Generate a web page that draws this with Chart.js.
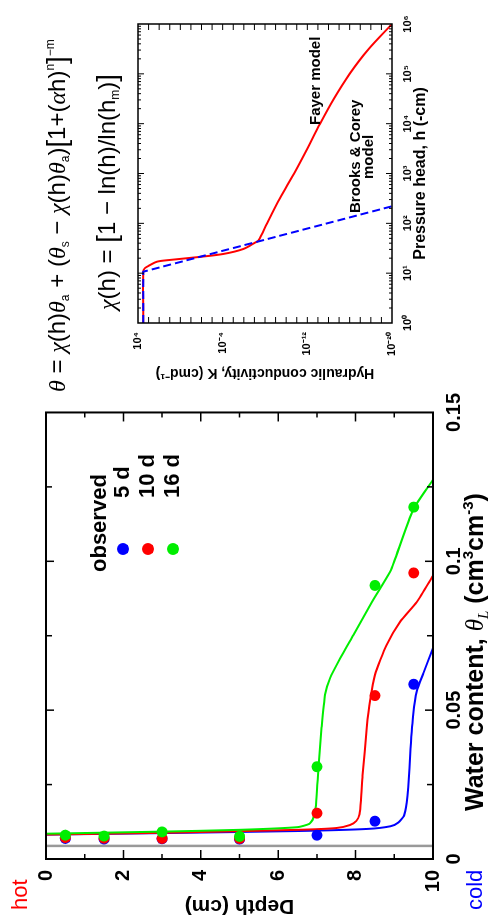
<!DOCTYPE html>
<html>
<head>
<meta charset="utf-8">
<script src="https://cdn.jsdelivr.net/npm/chart.js@4.4.0/dist/chart.umd.min.js"></script>
<style>
html, body { margin: 0; padding: 0; background: #fff; }
body { width: 489px; height: 924px; overflow: hidden; position: relative; }
#page {
    position: absolute; left: 0; top: 0; width: 924px; height: 489px;
    transform-origin: 0 0; transform: translateY(924px) rotate(-90deg);
    font-family: "Liberation Sans", Arial, sans-serif; color: #000;
}
#mainChart { position: absolute; left: 0; top: 0; }
#insetChart { position: absolute; left: 540px; top: 0; }
.lbl { position: absolute; white-space: nowrap; line-height: 1; }
.b { font-weight: bold; }
.dot { position: absolute; width: 12px; height: 12px; border-radius: 50%; }
.eq { position: absolute; white-space: nowrap; line-height: 1; font-size: 24px; }
.eq i { font-family: "Liberation Serif", "Times New Roman", serif; }
.eq sub, .eq sup, .xt sub, .xt sup { font-size: 0.5em; position: relative; vertical-align: baseline; line-height: 0; }
.eq sub { top: 0.35em; }
.eq sup { top: -0.9em; }
.eq .br { font-size: 1.15em; position: relative; top: 0.05em; }
.xt i { font-family: "Liberation Serif", "Times New Roman", serif; font-weight: normal; }
.xt sub { top: 0.35em; font-size: 0.6em; }
.xt sup { top: -0.7em; font-size: 0.6em; }
</style>
</head>
<body>
<div id="page">
    <canvas id="mainChart" width="540" height="489" style="width:540px;height:489px"></canvas>
    <canvas id="insetChart" width="384" height="440" style="width:384px;height:440px"></canvas>

    <div class="lbl" style="left:14px;top:9px;font-size:22px;color:#ff0000">hot</div>
    <div class="lbl" style="left:14px;top:464px;font-size:22px;color:#0000ff">cold</div>

    <div class="lbl b" style="left:352px;top:88px;font-size:22px">observed</div>
    <div class="dot" id="dot5" style="left:369px;top:117px"></div>
    <div class="dot" id="dot10" style="left:369px;top:142px"></div>
    <div class="dot" id="dot16" style="left:369px;top:167px"></div>
    <div class="lbl b" style="left:426px;top:111px;font-size:22px">5 d</div>
    <div class="lbl b" style="left:426px;top:136px;font-size:22px">10 d</div>
    <div class="lbl b" style="left:426px;top:161px;font-size:22px">16 d</div>

    <div class="lbl b xt" style="left:113px;top:462px;font-size:25px">Water content, <i>θ<sub>L</sub></i> (cm<sup>3</sup>cm<sup>-3</sup>)</div>

    <div class="eq" style="left:532px;top:42px"><i>θ</i> = <i>χ</i>(h)<i>θ</i><sub>a</sub> + (<i>θ</i><sub>s</sub> − <i>χ</i>(h)<i>θ</i><sub>a</sub>)<span class="br">[</span>1+(<i>α</i>h)<sup>n</sup><span class="br">]</span><sup>−m</sup></div>
    <div class="eq" style="left:614px;top:92px"><i>χ</i>(h) = <span class="br">[</span>1 − ln(h)/ln(h<sub>m</sub>)<span class="br">]</span></div>

    <div class="lbl b" style="left:799px;top:307px;font-size:15px">Fayer model</div>
    <div class="lbl b" style="left:711px;top:347px;font-size:15px">Brooks &amp; Corey</div>
    <div class="lbl b" style="left:745px;top:360px;font-size:15px">model</div>
</div>

<script>
// main chart values (x = water content, y = depth)
const thetaTicks = [0, 0.05, 0.1, 0.15];
const depthTicks = [0, 2, 4, 6, 8, 10];
const initialTheta = [0.0044, 0.0044];
const initialDepth = [0, 10];

const obsDepth = [0.5, 1.5, 3, 5, 7, 8.5, 9.5];
const obs5d = [0.0069, 0.0067, 0.0068, 0.0067, 0.0080, 0.0127, 0.0587];
const obs10d = [0.0072, 0.0070, 0.0069, 0.0069, 0.0154, 0.0549, 0.0961];
const obs16d = [0.0080, 0.0077, 0.0091, 0.0076, 0.0310, 0.0919, 0.1182];

const simDepth5d = [0, 3, 6.5, 8.3, 8.9, 9.1, 9.25, 9.32, 9.36, 9.42, 9.49, 9.58, 9.75, 10];
const simTheta5d = [0.0082, 0.0087, 0.0094, 0.0101, 0.0110, 0.0122, 0.0145, 0.0190, 0.0241, 0.0370, 0.0486, 0.0563, 0.0624, 0.0708];
const simDepth10d = [0, 3, 6.5, 7.5, 7.85, 8.02, 8.1, 8.14, 8.18, 8.29, 8.37, 8.5, 8.8, 9.15, 9.58, 10];
const simTheta10d = [0.0082, 0.0088, 0.0098, 0.0104, 0.0114, 0.0128, 0.0150, 0.0200, 0.0280, 0.0441, 0.0530, 0.0619, 0.0719, 0.0797, 0.0863, 0.0952];
const simDepth16d = [0, 3, 5, 6.5, 6.8, 6.9, 6.97, 7.04, 7.12, 7.21, 7.34, 7.6, 7.94, 8.42, 8.89, 9.0, 9.49, 10];
const simTheta16d = [0.0085, 0.0092, 0.0098, 0.0107, 0.0118, 0.0135, 0.0175, 0.0308, 0.0441, 0.0552, 0.0608, 0.0674, 0.0752, 0.0863, 0.0965, 0.1000, 0.1174, 0.1274];

// inset values (x = pressure head h, y = K as power of ten)
const hTicks = [1, 10, 100, 1e3, 1e4, 1e5, 1e6];
const hTickLabels = ['10⁰', '10¹', '10²', '10³', '10⁴', '10⁵', '10⁶'];
const kTicks = [1e-20, 1e-12, 1e-4, 1e4];
const kTickLabels = ['10⁻²⁰', '10⁻¹²', '10⁻⁴', '10⁴'];
const brooksH = [1, 10.7, 220];
const brooksLogK = [3.5, 3.5, -20];
const fayerH = [1, 10.7, 12.6, 14.0, 17.0, 18.4, 20.9, 24.3, 30.6, 41.0, 45.0, 100, 316, 1000, 3160, 10000, 31600, 100000, 316000, 1e6];
const fayerLogK = [3.5, 3.5, 3.35, 3.0, 2.2, 1.0, -1.55, -4.06, -5.95, -7.06, -7.37, -8.2, -9.4, -10.75, -12.0, -13.2, -14.5, -16.0, -17.8, -20];

const blue = '#0000ff';
const red = '#ff0000';
const green = '#00ee00';

document.getElementById('dot5').style.background = blue;
document.getElementById('dot10').style.background = red;
document.getElementById('dot16').style.background = green;

Chart.defaults.font.family = '"Liberation Sans", Arial, sans-serif';
Chart.defaults.color = '#000';

// inward ticks on all four sides plus a closed frame
const frameTicks = {
    id: 'frameTicks',
    afterDatasetsDraw(chart, args, opts) {
        const { ctx, chartArea: a } = chart;
        const sx = chart.scales.x, sy = chart.scales.y;
        ctx.save();
        ctx.strokeStyle = '#000';
        ctx.lineWidth = opts.tickWidth;
        ctx.beginPath();
        opts.xTicks.forEach(([v, len]) => {
            const p = sx.getPixelForValue(v);
            ctx.moveTo(p, a.bottom); ctx.lineTo(p, a.bottom - len);
            ctx.moveTo(p, a.top); ctx.lineTo(p, a.top + len);
        });
        opts.yTicks.forEach(([v, len]) => {
            const p = sy.getPixelForValue(v);
            ctx.moveTo(a.left, p); ctx.lineTo(a.left + len, p);
            ctx.moveTo(a.right, p); ctx.lineTo(a.right - len, p);
        });
        ctx.stroke();
        ctx.lineWidth = opts.frameWidth;
        ctx.strokeRect(a.left, a.top, a.right - a.left, a.bottom - a.top);
        ctx.restore();
    }
};

function pts(xs, ys) {
    return xs.map((x, i) => ({ x: x, y: ys[i] }));
}

let mainXTicks = [];
for (let i = 1; i < 6; i++) mainXTicks.push([i * 0.025, i % 2 === 0 ? 8 : 6]);
let mainYTicks = [];
for (let d = 1; d < 10; d++) mainYTicks.push([d, d % 2 === 0 ? 9 : 5]);

let mainCtx = document.getElementById('mainChart').getContext('2d');
let mainChart = new Chart(mainCtx, {
    type: 'scatter',
    data: {
        datasets: [
            { label: 'initial', data: pts(initialTheta, initialDepth), showLine: true, borderColor: '#999999', borderWidth: 2.5, pointRadius: 0, order: 9 },
            { label: '5 d sim', data: pts(simTheta5d, simDepth5d), showLine: true, borderColor: blue, borderWidth: 2, pointRadius: 0, tension: 0.2, order: 6 },
            { label: '10 d sim', data: pts(simTheta10d, simDepth10d), showLine: true, borderColor: red, borderWidth: 2, pointRadius: 0, tension: 0.2, order: 5 },
            { label: '16 d sim', data: pts(simTheta16d, simDepth16d), showLine: true, borderColor: green, borderWidth: 2, pointRadius: 0, tension: 0.2, order: 4 },
            { label: '5 d', data: pts(obs5d, obsDepth), backgroundColor: blue, borderWidth: 0, pointRadius: 5.5, order: 3 },
            { label: '10 d', data: pts(obs10d, obsDepth), backgroundColor: red, borderWidth: 0, pointRadius: 5.5, order: 2 },
            { label: '16 d', data: pts(obs16d, obsDepth), backgroundColor: green, borderWidth: 0, pointRadius: 5.5, order: 1 }
        ]
    },
    options: {
        responsive: false,
        animation: false,
        devicePixelRatio: 1,
        events: [],
        layout: { padding: { top: 46, right: 25, left: 0, bottom: 0 } },
        plugins: {
            legend: { display: false },
            tooltip: { enabled: false },
            frameTicks: { xTicks: mainXTicks, yTicks: mainYTicks, tickWidth: 1.5, frameWidth: 2 }
        },
        scales: {
            x: {
                type: 'linear', min: 0, max: 0.15,
                grid: { display: false, drawTicks: false },
                border: { display: false },
                afterBuildTicks: s => { s.ticks = thetaTicks.map(v => ({ value: v })); },
                afterFit: s => { s.height = 56; },
                ticks: {
                    font: { size: 20, weight: 'bold' }, padding: 9, maxRotation: 0, autoSkip: false,
                    callback: v => String(v)
                }
            },
            y: {
                type: 'linear', min: 0, max: 10, reverse: true,
                grid: { display: false, drawTicks: false },
                border: { display: false },
                afterBuildTicks: s => { s.ticks = depthTicks.map(v => ({ value: v })); },
                afterFit: s => { s.width = 65; },
                ticks: { font: { size: 20, weight: 'bold' }, padding: 11, autoSkip: false },
                title: { display: true, text: 'Depth (cm)', font: { size: 21, weight: 'bold' }, padding: { top: 6, bottom: 0 } }
            }
        }
    },
    plugins: [frameTicks]
});

let insetXTicks = [];
for (let d = 0; d < 6; d++) {
    for (let m = 1; m < 10; m++) {
        if (d === 0 && m === 1) continue;
        insetXTicks.push([m * Math.pow(10, d), m === 1 ? 6 : 3]);
    }
}
let insetYTicks = [];
for (let e = -19; e < 4; e++) insetYTicks.push([Math.pow(10, e), 6]);

let insetCtx = document.getElementById('insetChart').getContext('2d');
let insetChart = new Chart(insetCtx, {
    type: 'scatter',
    data: {
        datasets: [
            { label: 'Brooks & Corey model', data: pts(brooksH, brooksLogK.map(e => Math.pow(10, e))), showLine: true, borderColor: blue, borderWidth: 2, borderDash: [8, 4], pointRadius: 0, order: 1 },
            { label: 'Fayer model', data: pts(fayerH, fayerLogK.map(e => Math.pow(10, e))), showLine: true, borderColor: red, borderWidth: 2, pointRadius: 0, tension: 0.3, order: 2 }
        ]
    },
    options: {
        responsive: false,
        animation: false,
        devicePixelRatio: 1,
        events: [],
        layout: { padding: { top: 138, right: 24, left: 0, bottom: 0 } },
        plugins: {
            legend: { display: false },
            tooltip: { enabled: false },
            frameTicks: { xTicks: insetXTicks, yTicks: insetYTicks, tickWidth: 1, frameWidth: 1.5 }
        },
        scales: {
            x: {
                type: 'logarithmic', min: 1, max: 1e6,
                grid: { display: false, drawTicks: false },
                border: { display: false },
                afterBuildTicks: s => { s.ticks = hTicks.map(v => ({ value: v })); },
                afterFit: s => { s.height = 48; },
                ticks: {
                    font: { size: 11, weight: 'bold' }, padding: 9, maxRotation: 0, autoSkip: false,
                    callback: v => hTickLabels[hTicks.indexOf(v)]
                },
                title: { display: true, text: 'Pressure head, h (-cm)', font: { size: 16, weight: 'bold' }, padding: { top: 0, bottom: 10 } }
            },
            y: {
                type: 'logarithmic', min: 1e-20, max: 1e4,
                grid: { display: false, drawTicks: false },
                border: { display: false },
                afterBuildTicks: s => { s.ticks = kTicks.map(v => ({ value: v })); },
                afterFit: s => { s.width = 61; },
                ticks: {
                    font: { size: 11, weight: 'bold' }, padding: 9, autoSkip: false,
                    callback: v => kTickLabels[kTicks.indexOf(v)]
                },
                title: { display: true, text: 'Hydraulic conductivity, K (cmd⁻¹)', font: { size: 14, weight: 'bold' }, padding: { top: 3, bottom: 0 } }
            }
        }
    },
    plugins: [frameTicks]
});
</script>
</body>
</html>
